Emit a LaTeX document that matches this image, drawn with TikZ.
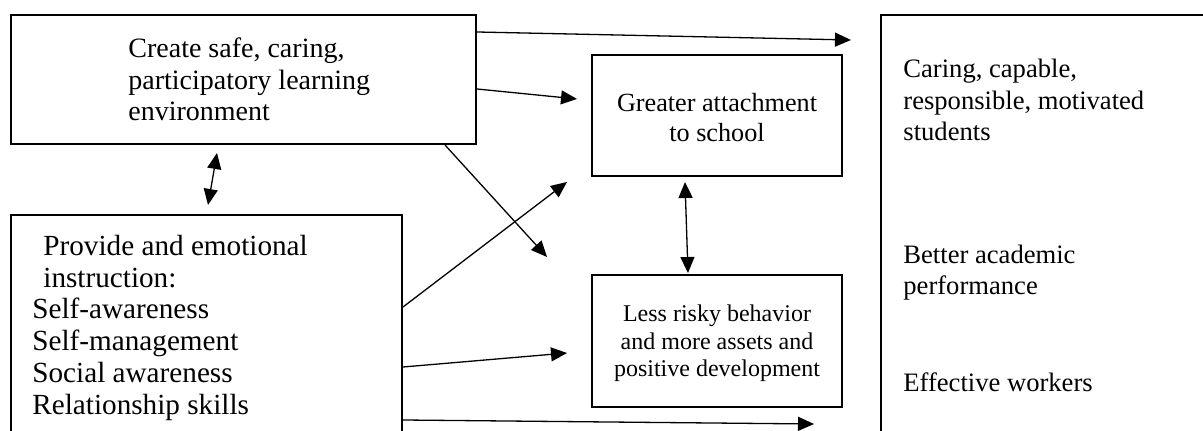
\documentclass[tikz,border=0pt]{standalone}
\usepackage{fontspec}
\setmainfont{Liberation Serif}
\usetikzlibrary{arrows.meta,fit}
\begin{document}
\begin{tikzpicture}[x=0.5pt,y=-0.5pt,
  box/.style={draw,line width=1pt,inner sep=0pt,fit=#1},
  conn/.style={line width=0.65pt,-{Triangle[length=8pt,width=7pt]}},
  dconn/.style={line width=0.65pt,{Triangle[length=8pt,width=7pt]}-{Triangle[length=8pt,width=7pt]}},
  txt/.style={inner sep=0pt,align=left,anchor=base west},
  ctxt/.style={inner sep=0pt,align=center,anchor=base}]
\useasboundingbox (0,0) rectangle (1203,431);
\clip (0,0) rectangle (1203,431);
% box corners
\coordinate (b1a) at (11,15);   \coordinate (b1b) at (476,144);
\coordinate (b2a) at (11,215);  \coordinate (b2b) at (402,450);
\coordinate (b3a) at (592,55);  \coordinate (b3b) at (842,176);
\coordinate (b4a) at (592,275); \coordinate (b4b) at (842,407);
\coordinate (b5a) at (881,15);  \coordinate (b5b) at (1220,450);
\node[box={(b1a)(b1b)}] (b1) {};
\node[box={(b2a)(b2b)}] (b2) {};
\node[box={(b3a)(b3b)}] (b3) {};
\node[box={(b4a)(b4b)}] (b4) {};
\node[box={(b5a)(b5b)}] (b5) {};
% texts (anchor = baseline of last line)
\node[txt,font=\fontsize{14}{15.75}\selectfont] (t1) at (128,121)
  {Create safe, caring,\\participatory learning\\environment};
\node[txt,font=\fontsize{14.6}{16}\selectfont] (t2a) at (43,288)
  {Provide and emotional\\instruction:};
\node[txt,font=\fontsize{14.6}{16}\selectfont] (t2b) at (32,415)
  {Self-awareness\\Self-management\\Social awareness\\Relationship skills};
\node[ctxt,font=\fontsize{13.1}{15}\selectfont] (t3) at (717,142)
  {Greater attachment\\to school};
\node[ctxt,font=\fontsize{12}{13.75}\selectfont] (t4) at (717,377)
  {Less risky behavior\\and more assets and\\positive development};
\node[txt,font=\fontsize{13.3}{15.75}\selectfont] (t5a) at (903,141)
  {Caring, capable,\\responsible, motivated\\students};
\node[txt,font=\fontsize{13.3}{15.75}\selectfont] (t5b) at (903,295)
  {Better academic\\performance};
\node[txt,font=\fontsize{13.3}{15.75}\selectfont] (t5c) at (903,392)
  {Effective workers};
% free ends
\coordinate (e1) at (851,40);
\coordinate (e2) at (577,99);
\coordinate (e3) at (547,257);
\coordinate (e4) at (567,182);
\coordinate (e5) at (567,353);
\coordinate (e6) at (814,424);
\coordinate (d1a) at (217,153);
\coordinate (d1b) at (208,205);
\coordinate (d2a) at (685,182);
\coordinate (d2b) at (688,273);
% connectors
\draw[conn] (b1.east |- 0,32) -- (e1);
\draw[conn] (b1.east |- 0,89) -- (e2);
\draw[conn] (445,0 |- b1.south) -- (e3);
\draw[conn] (b2.east |- 0,307) -- (e4);
\draw[conn] (b2.east |- 0,367) -- (e5);
\draw[conn] (b2.east |- 0,420) -- (e6);
\draw[dconn] (d1a) -- (d1b);
\draw[dconn] (d2a) -- (d2b);
\end{tikzpicture}
\end{document}
